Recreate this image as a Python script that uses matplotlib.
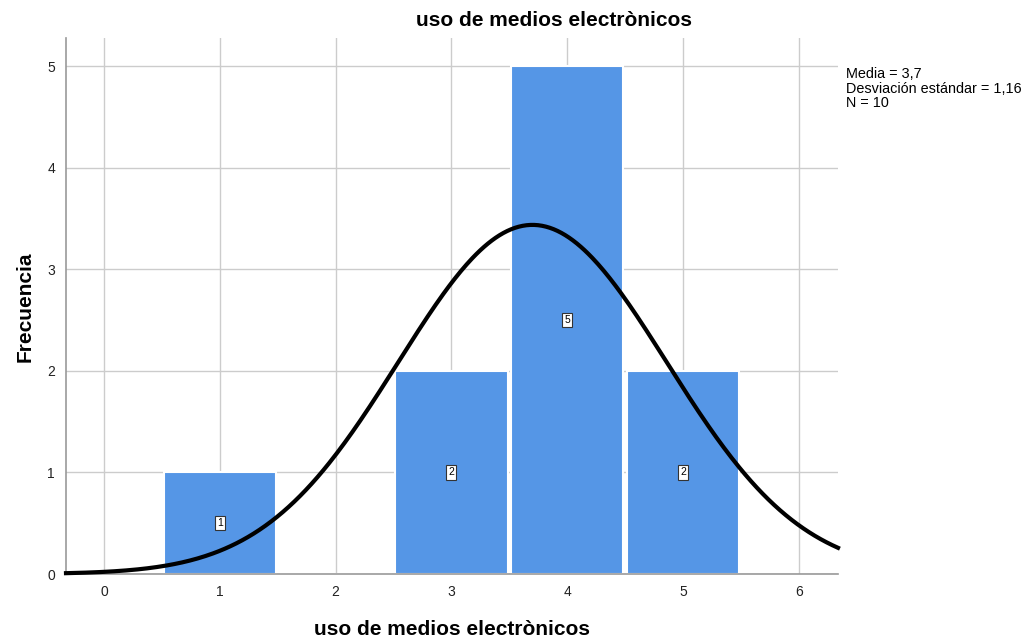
import numpy as np
import matplotlib.pyplot as plt

categories = [1, 2, 3, 4, 5]
freqs = [1, 0, 2, 5, 2]
mean, sd, n = 3.7, 1.16, 10
xticks = [0, 1, 2, 3, 4, 5, 6]
yticks = [0, 1, 2, 3, 4, 5]

plt.rcParams['font.family'] = ['Liberation Sans', 'DejaVu Sans']
fig = plt.figure(figsize=(10.28, 6.38), dpi=100)
ax = fig.add_axes([0.0642, 0.1003, 0.8152 - 0.0642, 0.9404 - 0.1003])

ax.set_xlim(-0.33, 6.34)
ax.set_ylim(0, 5.28)
ax.set_axisbelow(True)
ax.grid(True, color='#cccccc', linewidth=1)
ax.set_xticks(xticks)
ax.set_yticks(yticks)
ax.tick_params(length=0, labelsize=10, colors='#222222', pad=8)

ax.bar(categories, freqs, width=0.97, color='#5596e6', edgecolor='white', linewidth=1.5, zorder=2)
for c, f in zip(categories, freqs):
    if f > 0:
        ax.text(c, f / 2, str(f), ha='center', va='center', fontsize=7.5, zorder=4,
                bbox=dict(boxstyle='square,pad=0.2', facecolor='white', edgecolor='#333333', linewidth=0.8))

xs = np.linspace(-0.33, 6.34, 400)
ys = n * 1.0 / (sd * np.sqrt(2 * np.pi)) * np.exp(-0.5 * ((xs - mean) / sd) ** 2)
ax.plot(xs, ys, color='black', linewidth=3, zorder=3, clip_on=False)

for s in ['top', 'right']:
    ax.spines[s].set_visible(False)
for s in ['left', 'bottom']:
    ax.spines[s].set_color('#999999')
    ax.spines[s].set_linewidth(1.2)

fig.text(554 / 1028, 1 - 20 / 638, 'uso de medios electrònicos', fontsize=15,
         fontweight='bold', ha='center', va='center')
ax.set_xlabel('uso de medios electrònicos', fontsize=15, fontweight='bold', labelpad=15)
fig.text(25 / 1028, 1 - 307 / 638, 'Frecuencia', fontsize=15, fontweight='bold',
         rotation=90, ha='center', va='center')

fig.text(846 / 1028, 1 - 67 / 638, 'Media = 3,7\nDesviación estándar = 1,16\nN = 10',
         fontsize=10.4, va='top', ha='left', linespacing=1.05)

fig.savefig('out.png', dpi=100)
